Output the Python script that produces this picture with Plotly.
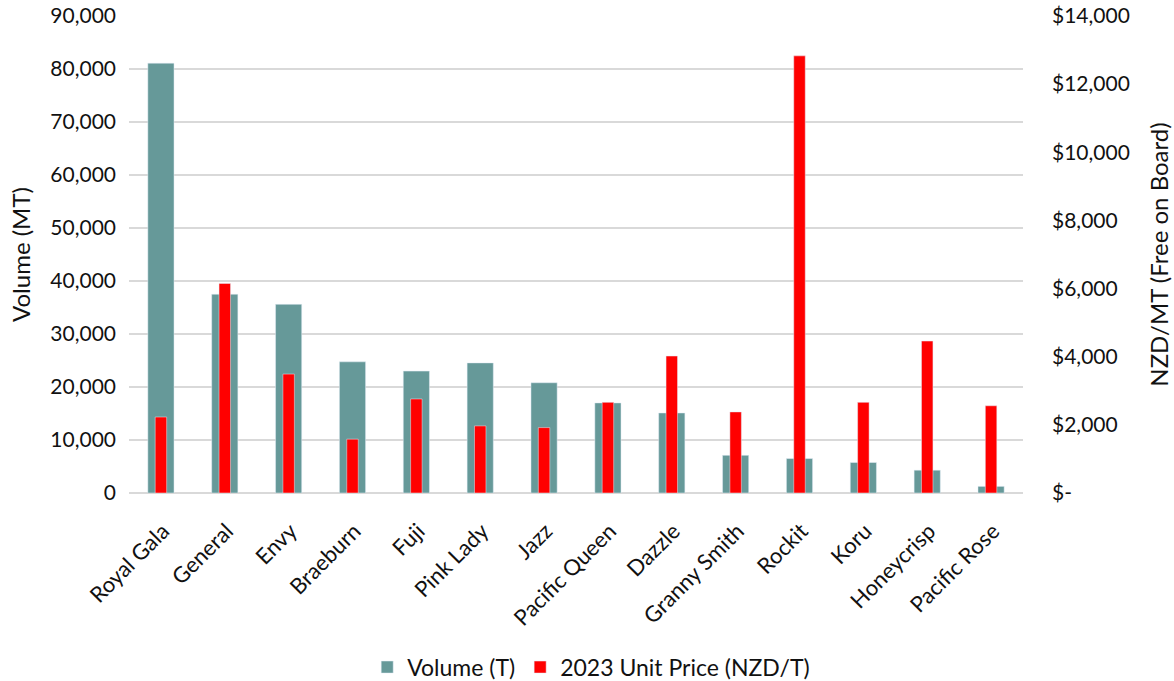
import plotly.graph_objects as go

categories = ["Royal Gala", "General", "Envy", "Braeburn", "Fuji", "Pink Lady", "Jazz",
              "Pacific Queen", "Dazzle", "Granny Smith", "Rockit", "Koru", "Honeycrisp", "Pacific Rose"]
volume_t = [81100, 37500, 35600, 24750, 23000, 24550, 20800, 17000, 15100, 7100, 6500, 5750, 4300, 1250]
unit_price_nzd = [2230, 6150, 3490, 1580, 2760, 1970, 1920, 2660, 4020, 2380, 12830, 2660, 4460, 2560]

left_ticks = [0, 10000, 20000, 30000, 40000, 50000, 60000, 70000, 80000, 90000]
right_ticks = [0, 2000, 4000, 6000, 8000, 10000, 12000, 14000]
right_labels = ["$-", "$2,000", "$4,000", "$6,000", "$8,000", "$10,000", "$12,000", "$14,000"]

FONT = "Lato"
TXT = "#111111"

fig = go.Figure()
fig.add_trace(go.Bar(x=categories, y=volume_t, name="Volume (T)", marker_color="#669999",
                     width=0.41, yaxis="y"))
fig.add_trace(go.Bar(x=categories, y=unit_price_nzd, name="2023 Unit Price (NZD/T)",
                     marker_color="#FF0000", width=0.18, yaxis="y2"))

fig.update_layout(
    width=1174, height=681,
    margin=dict(l=129, r=151, t=16, b=188, autoexpand=False),
    paper_bgcolor="white", plot_bgcolor="white",
    barmode="overlay",
    font=dict(family=FONT, size=21, color=TXT),
    xaxis=dict(tickangle=-45, tickfont=dict(size=22), showgrid=False, showline=False,
               ticks="", range=[-0.5, 13.5], automargin=False,
               ticklabelstandoff=20, ticklabelshift=2),
    yaxis=dict(range=[0, 90000], tickvals=left_ticks, tickformat=",", showgrid=True,
               gridcolor="#d9d9d9", gridwidth=1.5, zeroline=True, zerolinecolor="#d9d9d9",
               zerolinewidth=1.5, showline=False, ticks="", ticklabelstandoff=12,
               automargin=False, tickfont=dict(size=21),
               title=dict(text="Volume (MT)", font=dict(size=24), standoff=12)),
    yaxis2=dict(range=[0, 14000], tickvals=right_ticks, ticktext=right_labels,
                overlaying="y", side="right", showgrid=False, zeroline=False, showline=False,
                ticks="", ticklabelstandoff=28, automargin=False, tickfont=dict(size=21),
                title=dict(text="NZD/MT (Free on Board)", font=dict(size=24), standoff=22)),
    legend=dict(orientation="h", x=0.517, xanchor="center", y=-0.365, yanchor="middle",
                font=dict(size=23), itemwidth=30, traceorder="normal"),
    showlegend=True,
)

fig.write_html("out.html")
